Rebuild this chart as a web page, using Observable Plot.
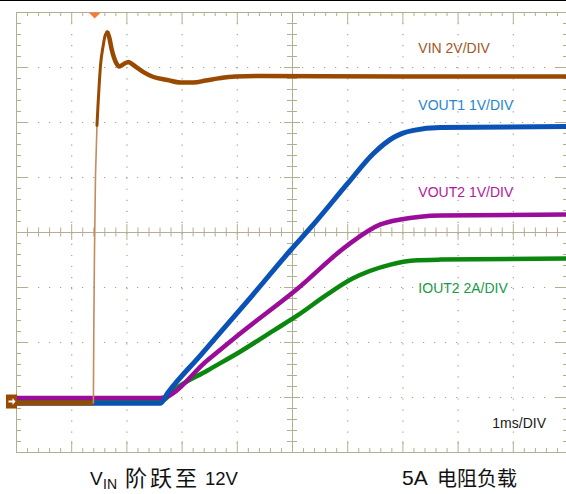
<!DOCTYPE html>
<html><head><meta charset="utf-8">
<script src="https://cdn.jsdelivr.net/npm/d3@7"></script>
<script src="https://cdn.jsdelivr.net/npm/@observablehq/plot@0.6"></script>
<style>
body{margin:0;background:#fff;width:566px;height:494px;overflow:hidden;font-family:"Liberation Sans",Arial,sans-serif}
#topline{height:1px;background:#000}
#chart svg{display:block;overflow:hidden}
#cap{display:block}
</style></head><body>
<div id="topline"></div>
<div id="chart"></div>
<svg id="cap" width="566" height="34">
  <text x="90" y="25" font-size="19" font-family="Liberation Sans" fill="#111">V</text>
  <text x="103" y="29" font-size="14" font-family="Liberation Sans" fill="#111">IN</text>
  <text x="125" y="26" font-size="22" font-family="Noto Sans CJK SC" letter-spacing="3" fill="#111">阶跃至</text>
  <text x="205" y="25" font-size="18.5" font-family="Liberation Sans" fill="#111">12V</text>
  <text x="402" y="25" font-size="21" font-family="Liberation Sans" fill="#111">5A</text>
  <text x="437" y="26" font-size="20" font-family="Noto Sans CJK SC" fill="#111">电阻负载</text>
</svg>
<script>
// ---- data (time in ms from the left edge of the screen, 1 ms/div) ----
const vinTime  = [0,1.393,1.400,1.413,1.431,1.458,1.476,1.495,1.522,1.571,1.612,1.649,1.685,1.721,1.766,1.812,1.857,1.902,1.957,2.029,2.083,2.156,2.301,2.482,2.736,2.971,3.207,3.424,3.659,3.967,4.420,6.957,9.964];
const vinVolts = [-0.05,-0.05,2.58,5.49,8.22,10.04,10.76,11.42,12.22,12.95,13.35,13.42,13.2,12.84,12.51,12.29,12.18,12.22,12.29,12.35,12.29,12.18,11.98,11.8,11.69,11.6,11.6,11.67,11.75,11.82,11.84,11.82,11.82];
const VIN_EDGE = [1.393, 1.458]; // fast edge of the step, drawn thin
const VIN_RISE = [1.458, 1.649]; // slower rise up to the overshoot peak

const vout1Time  = [0,2.609,2.736,3.333,4.239,4.964,5.38,5.996,6.467,6.830,7.0,7.192,7.681,9.964];
const vout1Volts = [-0.03,-0.03,0.15,0.84,1.89,2.75,3.22,3.96,4.51,4.8,4.88,4.93,4.98,5.0];

const vout2Time  = [0,2.609,3.460,4.058,5.09,5.996,6.594,6.957,7.319,7.681,9.964];
const vout2Volts = [0.064,0.064,0.75,1.24,2.05,2.84,3.22,3.31,3.36,3.38,3.4];

const ioutTime = [0,2.645,2.844,3.460,4.058,4.656,5.09,5.598,6.087,6.775,7.192,7.681,9.964];
const ioutAmps = [0.04,0.04,0.4,1.13,1.82,2.58,3.13,3.85,4.47,4.98,5.13,5.16,5.2];

const perDiv = {VIN: 2, VOUT1: 1, VOUT2: 1, IOUT2: 2};
const GROUND = 0.927;      // channel reference level, divisions above screen bottom
const TRIGGER = 1.417;     // trigger position, ms

const labelText = ["VIN 2V/DIV","VOUT1 1V/DIV","VOUT2 1V/DIV","IOUT2 2A/DIV","1ms/DIV"];
const labelTime = [7.28,7.28,7.28,7.28,8.62];
const labelDiv  = [7.345,6.31,4.727,2.98,0.536];

// ---- styles ----
const C = {VIN:"#994a00", VINedge:"#c48b5c", VOUT1:"#0b52b6", VOUT2:"#990d99", IOUT2:"#0b870f"};
const labelColor = ["#a4561f","#2584d2","#b3189c","#189a4a","#1a1a1a"];
const GRID = "#b4ae92", GRIDDOT = "#a8a285";

const rows = (t, v, k) => t.map((d,i)=>({t:d, y: GROUND + v[i]/k}));
const vinRows = rows(vinTime, vinVolts, perDiv.VIN);
const vinBase = vinRows.filter(d=>d.t<=VIN_EDGE[0]);
const vinEdge = vinRows.filter(d=>d.t>=VIN_EDGE[0] && d.t<=VIN_EDGE[1]);
const vinRise = vinRows.filter(d=>d.t>=VIN_RISE[0] && d.t<=VIN_RISE[1]);
const vinMain = vinRows.filter(d=>d.t>=VIN_RISE[1]);
const v1 = rows(vout1Time, vout1Volts, perDiv.VOUT1);
const v2 = rows(vout2Time, vout2Volts, perDiv.VOUT2);
const io = rows(ioutTime, ioutAmps, perDiv.IOUT2);
const labels = labelText.map((s,i)=>({s, t: labelTime[i], y: labelDiv[i], c: labelColor[i]}));

// graticule
const px = 1/55.2, py = 1/55;
const xs = d3.range(0,51).map(i=>i/5);
const ys = d3.range(0,41).map(i=>i/5);
const maj = d => Math.abs(d-Math.round(d))<1e-6;
const gx = d3.range(1,10).filter(d=>d!==5);
const gy = d3.range(1,8).filter(d=>d!==4);

const tri = {draw(ctx){ctx.moveTo(-6,-3);ctx.lineTo(6,-3);ctx.lineTo(0,3);ctx.closePath();}};
const box = {draw(ctx){ctx.moveTo(-10.5,-7);ctx.lineTo(0.5,-7);ctx.lineTo(0.5,7);ctx.lineTo(-10.5,7);ctx.closePath();}};
const arrow = {draw(ctx){ctx.moveTo(-8,-1);ctx.lineTo(-4,-1);ctx.lineTo(-4,-3.5);ctx.lineTo(-1,0);ctx.lineTo(-4,3.5);ctx.lineTo(-4,1);ctx.lineTo(-8,1);ctx.closePath();}};

const lineOpts = (stroke, w) => ({x:"t", y:"y", stroke, strokeWidth:w, curve:"monotone-x", strokeLinejoin:"round", strokeLinecap:"round"});

const chart = Plot.plot({
  width: 566, height: 459,
  marginLeft: 16, marginRight: -2, marginTop: 11, marginBottom: 8,
  x: {domain:[0,10], axis:null},
  y: {domain:[0,8], axis:null},
  style: {fontFamily:"Liberation Sans, Arial, sans-serif", background:"#fff"},
  marks: [
    Plot.ruleX(gx, {stroke:GRIDDOT, strokeWidth:1.2, strokeDasharray:"1.2 9.84"}),
    Plot.ruleY(gy, {stroke:GRIDDOT, strokeWidth:1.2, strokeDasharray:"1.2 9.8"}),
    Plot.frame({stroke:GRID}),
    Plot.ruleX(xs, {x:d=>d, y1:8, y2:d=>8-(maj(d)?11:4)*py, stroke:GRID}),
    Plot.ruleX(xs, {x:d=>d, y1:0, y2:d=>(maj(d)?11:4)*py, stroke:GRID}),
    Plot.ruleY(ys, {y:d=>d, x1:0, x2:d=>(maj(d)?12:5)*px, stroke:GRID}),
    Plot.ruleY(ys, {y:d=>d, x1:10, x2:d=>10-(maj(d)?12:5)*px, stroke:GRID}),
    Plot.ruleX([5], {stroke:GRID}),
    Plot.ruleY([4], {stroke:GRID}),
    Plot.ruleX(xs, {x:d=>d, y1:d=>4-(maj(d)?8:4.5)*py, y2:d=>4+(maj(d)?8:4.5)*py, stroke:GRID}),
    Plot.ruleY(ys, {y:d=>d, x1:d=>5-(maj(d)?8:5)*px, x2:d=>5+(maj(d)?8:5)*px, stroke:GRID}),
    Plot.line(io, lineOpts(C.IOUT2, 4.5)),
    Plot.line(v2, lineOpts(C.VOUT2, 4.5)),
    Plot.line(v1, lineOpts(C.VOUT1, 5)),
    Plot.line(vinBase, {...lineOpts(C.VIN, 5), strokeLinecap:"butt"}),
    Plot.line(vinEdge, {x:"t", y:"y", stroke:C.VINedge, strokeWidth:1.6}),
    Plot.line(vinRise, lineOpts(C.VIN, 3)),
    Plot.line(vinMain, lineOpts(C.VIN, 4.5)),
    Plot.text(labels, {x:"t", y:"y", text:"s", fill:"c", textAnchor:"start", fontSize:14}),
    Plot.dot([TRIGGER], {x:d=>d, frameAnchor:"top", dy:3, symbol:tri, fill:"#f87a3a", stroke:null, r:4}),
    Plot.dot([GROUND], {x:0, y:d=>d, symbol:box, fill:C.VIN, stroke:null, r:4}),
    Plot.dot([GROUND], {x:0, y:d=>d, symbol:arrow, fill:"#fff", stroke:null, r:4})
  ]
});
document.getElementById("chart").appendChild(chart);
</script>
</body></html>
